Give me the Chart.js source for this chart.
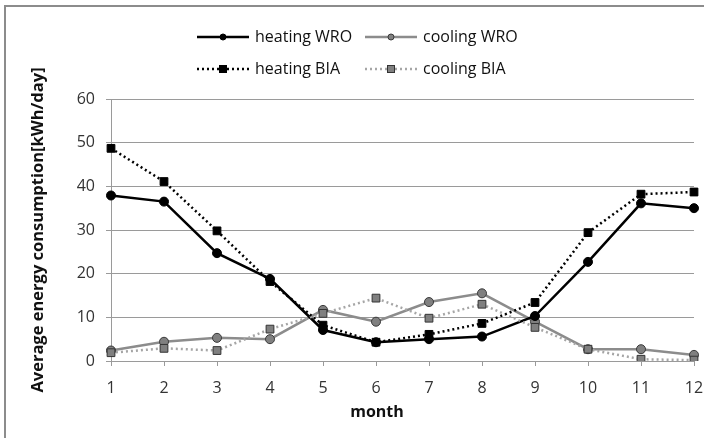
<!DOCTYPE html>
<html>
<head>
<meta charset="utf-8">
<script src="https://cdn.jsdelivr.net/npm/chart.js@4"></script>
<style>
  html, body { margin: 0; padding: 0; background: #fff; overflow: hidden; }
  #wrap { width: 704px; height: 438px; position: relative; }
</style>
</head>
<body>
<div id="wrap"><canvas id="chart" width="704" height="438"></canvas></div>
<script>
const months = ['1', '2', '3', '4', '5', '6', '7', '8', '9', '10', '11', '12'];
const heatingWRO = [37.9, 36.5, 24.7, 18.8, 7.1, 4.3, 5.0, 5.6, 10.3, 22.7, 36.1, 35.0];
const coolingWRO = [2.4, 4.4, 5.3, 5.0, 11.7, 9.0, 13.5, 15.5, 9.0, 2.7, 2.7, 1.4];
const heatingBIA = [48.7, 41.1, 29.8, 18.2, 8.2, 4.3, 6.1, 8.6, 13.4, 29.4, 38.2, 38.7];
const coolingBIA = [1.9, 2.9, 2.4, 7.3, 10.9, 14.4, 9.8, 13.0, 7.7, 2.7, 0.4, 0.2];
const yTicks = [0, 10, 20, 30, 40, 50, 60];

const FONT = "'Open Sans', 'DejaVu Sans', sans-serif";
const gridColor = '#9a9a9a';

const datasets = [
  {
    label: 'heating WRO', data: heatingWRO, order: 3,
    borderColor: '#000', borderWidth: 2.5, backgroundColor: '#000',
    pointStyle: 'circle', pointRadius: 4.5, pointBorderColor: '#000', pointBorderWidth: 1,
    legendRow: 0, legendCol: 0
  },
  {
    label: 'cooling WRO', data: coolingWRO, order: 4,
    borderColor: '#8c8c8c', borderWidth: 2.5, backgroundColor: '#808080',
    pointStyle: 'circle', pointRadius: 4.5, pointBorderColor: '#3a3a3a', pointBorderWidth: 1,
    legendRow: 0, legendCol: 1
  },
  {
    label: 'heating BIA', data: heatingBIA, order: 1,
    borderColor: '#000', borderWidth: 2.5, borderDash: [2, 3], backgroundColor: '#000',
    pointStyle: 'rect', pointRadius: 5.5, pointBorderColor: '#000', pointBorderWidth: 1,
    legendRow: 1, legendCol: 0
  },
  {
    label: 'cooling BIA', data: coolingBIA, order: 2,
    borderColor: '#a6a6a6', borderWidth: 2.5, borderDash: [2, 3], backgroundColor: '#808080',
    pointStyle: 'rect', pointRadius: 5.5, pointBorderColor: '#333', pointBorderWidth: 1,
    legendRow: 1, legendCol: 1
  }
];

// frame, legend and x title drawn by hand
const extras = {
  id: 'extras',
  beforeDraw(chart) {
    const { ctx } = chart;
    ctx.save();
    ctx.fillStyle = '#fff';
    ctx.fillRect(0, 0, chart.width, chart.height);
    ctx.fillStyle = '#8c8c8c';
    ctx.fillRect(4, 5, 2, chart.height);
    ctx.fillRect(4, 5, chart.width, 2);
    ctx.restore();
  },
  afterDraw(chart) {
    const { ctx } = chart;
    const rowY = [37, 69];
    const colX = [197, 365];
    ctx.save();
    ctx.font = '16px ' + FONT;
    ctx.textBaseline = 'middle';
    ctx.textAlign = 'left';
    chart.data.datasets.forEach(ds => {
      const x = colX[ds.legendCol];
      const y = rowY[ds.legendRow];
      ctx.strokeStyle = ds.borderColor;
      ctx.lineWidth = 2.5;
      ctx.setLineDash(ds.borderDash || []);
      ctx.beginPath();
      ctx.moveTo(x, y);
      ctx.lineTo(x + 52, y);
      ctx.stroke();
      ctx.setLineDash([]);
      ctx.fillStyle = ds.backgroundColor;
      ctx.strokeStyle = ds.pointBorderColor;
      ctx.lineWidth = 1;
      if (ds.pointStyle === 'circle') {
        ctx.beginPath();
        ctx.arc(x + 26, y, 3, 0, Math.PI * 2);
        ctx.fill();
        ctx.stroke();
      } else {
        ctx.fillRect(x + 22.5, y - 3.5, 7, 7);
        ctx.strokeRect(x + 22.5, y - 3.5, 7, 7);
      }
      ctx.fillStyle = '#111';
      ctx.fillText(ds.label, x + 58, y);
    });
    ctx.font = 'bold 16px ' + FONT;
    ctx.textAlign = 'center';
    ctx.fillStyle = '#111';
    ctx.fillText('month', 377, 412);
    ctx.restore();
  }
};

new Chart(document.getElementById('chart'), {
  type: 'line',
  data: { labels: months, datasets: datasets },
  options: {
    responsive: false,
    animation: false,
    layout: { padding: { top: 99, right: 0, bottom: 0, left: 0 } },
    plugins: { legend: { display: false }, tooltip: { enabled: false } },
    elements: { line: { tension: 0 } },
    scales: {
      x: {
        type: 'category',
        offset: false,
        afterFit(scale) {
          scale.height = 77;
          scale.paddingRight = 10;
          scale.paddingLeft = 0;
        },
        grid: { display: true, drawOnChartArea: false, drawTicks: true, tickLength: 5, color: gridColor },
        border: { display: true, color: gridColor, width: 1 },
        ticks: { padding: 13, color: '#333', font: { family: FONT, size: 16 }, maxRotation: 0, autoSkip: false }
      },
      y: {
        min: 0, max: 60,
        afterFit(scale) { scale.width = 111; },
        afterBuildTicks(scale) { scale.ticks = yTicks.map(v => ({ value: v })); },
        grid: { color: gridColor, tickLength: 5, lineWidth: 1 },
        border: { display: true, color: gridColor, width: 1 },
        ticks: { padding: 11, color: '#333', font: { family: FONT, size: 16 } },
        title: {
          display: true,
          text: 'Average energy consumption[kWh/day]',
          color: '#111',
          font: { family: FONT, size: 16.5, weight: 'bold' },
          padding: { top: 28, bottom: 0 }
        }
      }
    }
  },
  plugins: [extras]
});
</script>
</body>
</html>
